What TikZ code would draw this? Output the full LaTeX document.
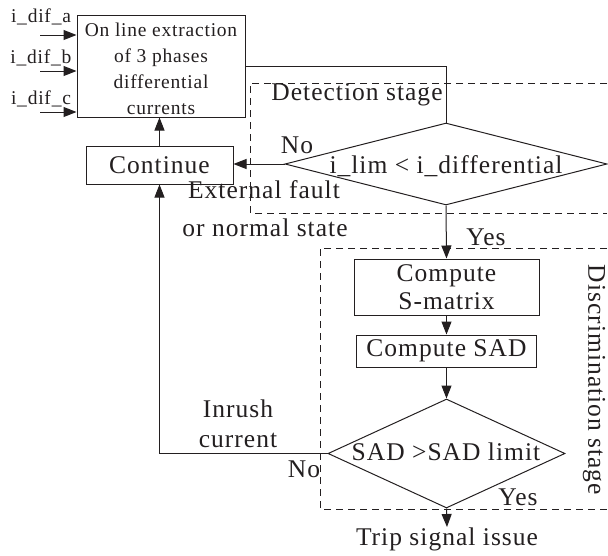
\documentclass[tikz,border=0pt]{standalone}
\usepackage{fontspec}
\setmainfont[LetterSpace=4]{Liberation Serif}
\usetikzlibrary{arrows.meta,shapes.geometric}
\definecolor{ink}{HTML}{231F20}
\begin{document}
\begin{tikzpicture}[x=1pt,y=-1pt,
  font=\fontsize{25.5}{28}\selectfont,
  every node/.style={text=ink},
  line/.style={draw=ink,line width=1pt},
  arr/.style={line,-{Triangle[length=13pt,width=10pt]}},
  stagebox/.style={draw=ink,line width=0.9pt,dash pattern=on 7pt off 5pt},
  procbox/.style={draw=ink,line width=1pt,rectangle,inner sep=0pt,align=center},
  decision/.style={draw=ink,line width=1pt,diamond,inner sep=0pt},
  lbl/.style={inner sep=1pt},
  small/.style={font=\fontsize{19.5}{26}\selectfont}]
\useasboundingbox (0,0) rectangle (608,555);
% stage boxes
\draw[stagebox] (607,83) -- (250,83) -- (250,213) -- (607,213);
\draw[stagebox] (607,248) -- (320,248) -- (320,509) -- (607,509);
\node[lbl] (detlbl) at (357,95) {Detection stage};
\node[lbl,rotate=-90] (dislbl) at (594,380) {Discrimination stage};
% nodes
\node[procbox,minimum width=168,minimum height=102] (top) at (161,66) {};
\node[lbl,small,align=center] (toptxt) at (161,69)
  {On line extraction\\of 3 phases\\differential\\currents};
\node[procbox,minimum width=147,minimum height=38] (cont) at (159.5,165) {Continue};
\node[decision,minimum width=322,minimum height=82] (d1) at (446,164) {};
\node[lbl] (d1t) at (446,166) {i\_lim < i\_differential};
\node[procbox,minimum width=185,minimum height=56] (smat) at (446.5,287) {Compute\\S-matrix};
\node[procbox,minimum width=180,minimum height=32] (sad) at (446.5,351) {Compute SAD};
\node[decision,minimum width=237,minimum height=109] (d2) at (446.5,453.5) {};
\node[lbl] (d2t) at (446,452) {SAD >SAD limit};
\node[inner sep=1pt,anchor=north] (trip) at (447,527) {Trip signal issue};
% input labels
\node[lbl,small] (ia) at (41,17) {i\_dif\_a};
\node[lbl,small] (ib) at (41,58) {i\_dif\_b};
\node[lbl,small] (ic) at (41,99) {i\_dif\_c};
\coordinate (sa) at (40,35);
\coordinate (sb) at (40,71);
\coordinate (sc) at (40,112);
\draw[arr] (sa) -- (sa -| top.west);
\draw[arr] (sb) -- (sb -| top.west);
\draw[arr] (sc) -- (sc -| top.west);
% connectors
\draw[line] (top.east) -| (d1.north);
\draw[arr] (d1.west) -- (d1.west -| cont.east);
\draw[arr] (cont.north) -- (cont.north |- top.south);
\draw[arr] (d1.south) -- (smat.north);
\draw[arr] (smat.south) -- (sad.north);
\draw[arr] (sad.south) -- (d2.north);
\draw[arr] (d2.west) -| (cont.south);
\draw[arr] (d2.south) -- (trip.north);
% labels
\node[lbl] (no1) at (297,145) {No};
\node[lbl] (ext1) at (264,190) {External fault};
\node[lbl] (ext2) at (265,228) {or normal state};
\node[lbl] (yes1) at (486,237) {Yes};
\node[lbl] (inr1) at (238,409) {Inrush};
\node[lbl] (inr2) at (238,440) {current};
\node[lbl] (no2) at (304,469) {No};
\node[lbl] (yes2) at (518,497) {Yes};
\end{tikzpicture}
\end{document}
